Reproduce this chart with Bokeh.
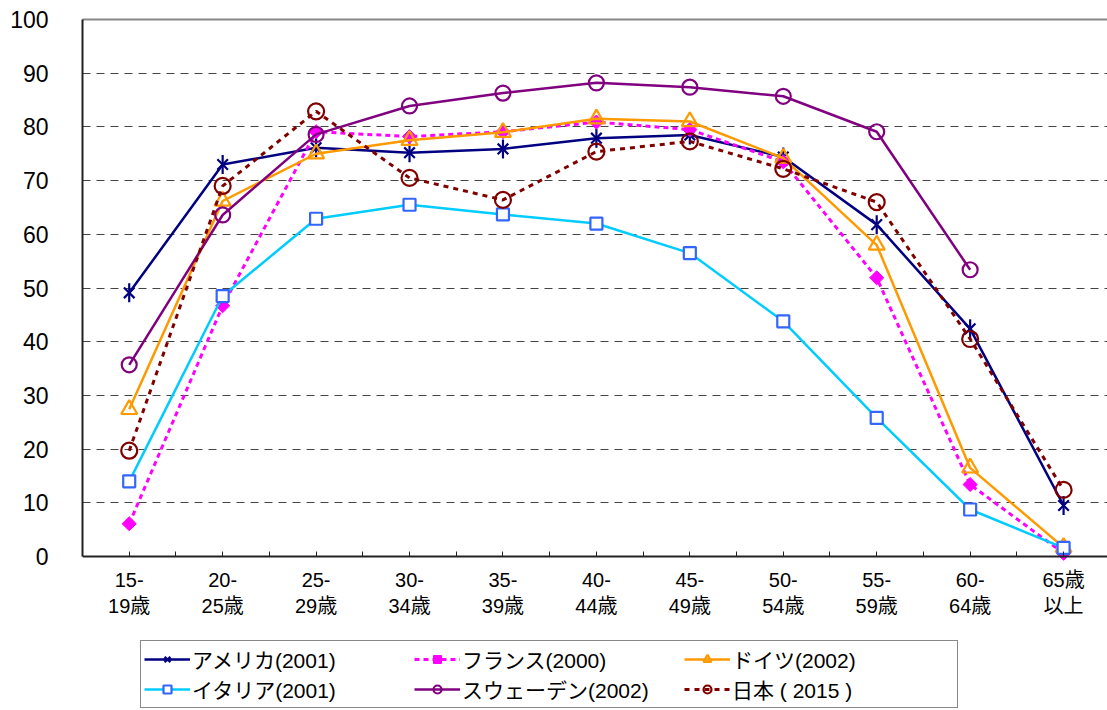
import math
from bokeh.plotting import figure
from bokeh.models import FixedTicker, Legend, LegendItem, Range1d, LinearAxis
from bokeh.embed import file_html
from bokeh.resources import INLINE

nan = float("nan")

categories = ["15-\n19歳", "20-\n25歳", "25-\n29歳", "30-\n34歳", "35-\n39歳", "40-\n44歳",
              "45-\n49歳", "50-\n54歳", "55-\n59歳", "60-\n64歳", "65歳\n以上"]
y_ticks = [0, 10, 20, 30, 40, 50, 60, 70, 80, 90, 100]

usa = [49.1, 73.0, 76.1, 75.2, 75.9, 77.9, 78.5, 74.4, 61.8, 42.4, 9.5]
france = [6.1, 46.7, 79.1, 78.2, 79.1, 80.9, 79.5, 73.5, 51.9, 13.4, 0.6]
germany = [27.4, 66.2, 75.0, 77.5, 79.0, 81.5, 81.0, 74.2, 58.0, 16.5, 1.7]
italy = [14.0, 48.5, 62.9, 65.5, 63.7, 62.0, 56.5, 43.8, 25.8, 8.75, 1.6]
sweden = [35.7, 63.6, 78.6, 83.9, 86.3, 88.2, 87.4, 85.7, 79.1, 53.4, nan]
japan = [19.7, 69.0, 82.9, 70.5, 66.4, 75.4, 77.3, 72.2, 66.0, 40.5, 12.4]

labels = ["アメリカ(2001)", "フランス(2000)", "ドイツ(2002)",
          "イタリア(2001)", "スウェーデン(2002)", "日本 ( 2015 )"]

xs = list(range(len(categories)))

FONT = "'Liberation Sans', 'Noto Sans CJK JP', sans-serif"

# frame: top at 19px, value 0 at 556px (5.37 px per unit), bottom of frame at 710px
Y_MIN = -(710 - 556) / 5.37

p = figure(width=1107, height=710,
           x_range=Range1d(-0.5, 10.47), y_range=Range1d(Y_MIN, 100),
           output_backend="svg", toolbar_location=None,
           min_border_left=82, min_border_right=0, min_border_top=19,
           min_border_bottom=0)

p.outline_line_color = None
p.background_fill_color = "white"
p.border_fill_color = "white"

# x axis at value 0
xa = p.below[0]
xa.fixed_location = 0
xa.ticker = FixedTicker(ticks=xs, minor_ticks=[i - 0.5 for i in range(len(categories) + 1)])
xa.major_label_overrides = {i: c for i, c in enumerate(categories)}
xa.major_label_text_font = FONT
xa.major_label_text_font_size = "20px"
xa.major_label_text_color = "black"
xa.major_label_standoff = 12
xa.major_tick_in = 5
xa.major_tick_out = 0
xa.minor_tick_in = 5
xa.minor_tick_out = 0
xa.axis_line_color = "#222222"
xa.axis_line_width = 2
xa.major_tick_line_color = "#222222"
xa.minor_tick_line_color = "#222222"

# top border line
top_axis = LinearAxis(ticker=FixedTicker(ticks=[], minor_ticks=[]), axis_line_color="#888888",
                      axis_line_width=2, major_tick_in=0, major_tick_out=0,
                      minor_tick_in=0, minor_tick_out=0,
                      major_label_text_font_size="0px", major_label_standoff=0)
p.add_layout(top_axis, "above")

ya = p.left[0]
ya.bounds = (0, 100)
ya.ticker = FixedTicker(ticks=y_ticks, minor_ticks=[])
ya.major_label_text_font = FONT
ya.major_label_text_font_size = "23px"
ya.major_label_text_color = "black"
ya.major_label_standoff = 34
ya.major_tick_in = 0
ya.major_tick_out = 0
ya.axis_line_color = "#222222"
ya.axis_line_width = 2

p.xgrid.grid_line_color = None
p.ygrid.ticker = FixedTicker(ticks=y_ticks[1:-1])
p.ygrid.grid_line_color = "#444444"
p.ygrid.grid_line_dash = "8 6"
p.ygrid.grid_line_width = 1

# series
NAVY = "#000080"
MAG = "#FF00FF"
ORA = "#FF9900"
CYAN = "#00CCFF"
BLUE = "#3366FF"
PURP = "#800080"
DRED = "#800000"

r_usa_l = p.line(xs, usa, line_color=NAVY, line_width=2.5)
r_usa_x = p.scatter(xs, usa, marker="x", size=15, line_color=NAVY, line_width=2.2)
r_usa_d = p.scatter(xs, usa, marker="dash", angle=math.pi / 2, size=19, line_color=NAVY, line_width=2.2)

r_fr_l = p.line(xs, france, line_color=MAG, line_width=3, line_dash="5 4")
r_fr_m = p.scatter(xs, france, marker="square", angle=math.pi / 4, size=10, line_color=MAG, fill_color=MAG)

r_de_l = p.line(xs, germany, line_color=ORA, line_width=2.5)
r_de_m = p.scatter(xs, germany, marker="triangle", size=16, line_color=ORA, fill_color=None, line_width=2.2)

r_it_l = p.line(xs, italy, line_color=CYAN, line_width=2.5)
r_it_m = p.scatter(xs, italy, marker="square", size=12, line_color=BLUE, fill_color="white", line_width=2.2)

r_se_l = p.line(xs, sweden, line_color=PURP, line_width=2.5)
r_se_m = p.scatter(xs, sweden, marker="circle", size=15, line_color=PURP, fill_color=None, line_width=2.2)

r_jp_l = p.line(xs, japan, line_color=DRED, line_width=3, line_dash="5 5")
r_jp_m = p.scatter(xs, japan, marker="circle", size=16, line_color=DRED, fill_color=None, line_width=2.2)

items = [
    LegendItem(label=labels[0], renderers=[r_usa_l, r_usa_x, r_usa_d]),
    LegendItem(label=labels[1], renderers=[r_fr_l, r_fr_m]),
    LegendItem(label=labels[2], renderers=[r_de_l, r_de_m]),
    LegendItem(label=labels[3], renderers=[r_it_l, r_it_m]),
    LegendItem(label=labels[4], renderers=[r_se_l, r_se_m]),
    LegendItem(label=labels[5], renderers=[r_jp_l, r_jp_m]),
]

legend = Legend(items=items, location=(58, 2), orientation="horizontal", nrows=2,
                border_line_color="#111111", border_line_width=1,
                background_fill_color="white", background_fill_alpha=1,
                padding=3, spacing=0, margin=0,
                glyph_width=46, glyph_height=20, label_height=20,
                label_standoff=2, label_width=222,
                label_text_font=FONT, label_text_font_size="21px",
                label_text_color="black")
p.add_layout(legend)

open("out.html", "w").write(file_html(p, INLINE))
